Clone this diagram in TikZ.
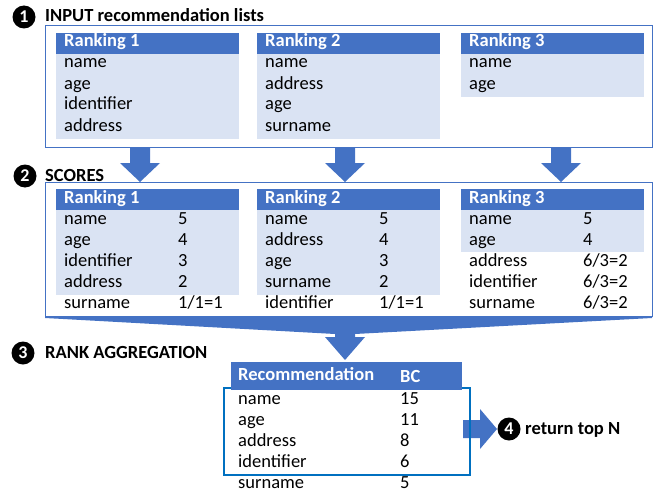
\documentclass[tikz,border=0pt]{standalone}
\usepackage{fontspec}
\setmainfont{Carlito}
\usetikzlibrary{positioning}
\definecolor{hdblue}{HTML}{4472C4}
\definecolor{bdblue}{HTML}{DAE3F3}
\definecolor{lnblue}{HTML}{0070C0}
\newcommand{\txtsize}{\fontsize{18.5}{21}\selectfont}
% block arrow pointing down, top middle at #1
\newcommand{\blockdown}[1]{\fill[blkarrow] (#1) ++(-10,0) -- ++(20,0) -- ++(0,16)
    -- ++(10,0) -- ++(-20,19) -- ++(-20,-19) -- ++(10,0) -- cycle;}
\tikzset{
    numcirc/.style = {circle, fill=black, text=white, inner sep=0pt,
        minimum size=23pt, font=\fontsize{18}{18}\selectfont\bfseries},
    sectitle/.style = {anchor=base west, inner sep=0pt, font=\txtsize\bfseries},
    cell/.style = {anchor=base west, inner sep=0pt, font=\txtsize},
    headcell/.style = {cell, text=white, font=\txtsize\bfseries},
    headbar/.style = {anchor=north west, fill=hdblue, inner sep=0pt,
        minimum width=183pt, minimum height=21pt},
    bodybar/.style = {anchor=north west, fill=bdblue, inner sep=0pt,
        minimum width=183pt},
    groupbox/.style = {anchor=north west, draw=hdblue, line width=1.2pt,
        inner sep=0pt, minimum width=607pt},
    blkarrow/.style = {fill=hdblue, draw=none},
}

\begin{document}
\begin{tikzpicture}[x=1pt, y=-1pt]
\useasboundingbox (0,0) rectangle (660,492);

% 1 - input lists
\node[numcirc] (n1) at (24,17) {1};
\node[sectitle] (t1) at (45,22) {INPUT recommendation lists};
\node[groupbox, minimum height=122pt] (input) at (45,25) {};
\foreach \tx/\tn/\bh/\items in {56/1/85/{name,age,identifier,address},
        257/2/85/{name,address,age,surname}, 461/3/43/{name,age}}{
    \node[headbar] (in\tn) at (\tx,33) {};
    \node[bodybar, minimum height=\bh pt] (inb\tn) at (\tx,54) {};
    \node[headcell] (inh\tn) at (\tx+8,47) {Ranking \tn};
    \foreach \w [count=\k] in \items
        \node[cell] (in\tn-\k) at (\tx+8,47+21*\k) {\w};
}
\coordinate (a1) at (140,147);
\coordinate (a2) at (345,147);
\coordinate (a3) at (561,147);
\blockdown{a1}
\blockdown{a2}
\blockdown{a3}

% 2 - scores
\node[numcirc] (n2) at (25,176) {2};
\node[sectitle] (t2) at (45,181) {SCORES};
\coordinate (tip) at (345,360);
\fill[blkarrow] (45,316) -- (652,316) -- (652,318) -- (355,334) -- (355,337)
    -- (365,337) -- (tip) -- (325,337) -- (335,337) -- (335,334) -- (45,318) -- cycle;
\node[groupbox, minimum height=134pt, fill=white] (scores) at (45,182) {};
\foreach \tx/\tn/\bh/\items in {56/1/85/{name/5,age/4,identifier/3,address/2,surname/{1/1=1}},
        257/2/85/{name/5,address/4,age/3,surname/2,identifier/{1/1=1}},
        461/3/42/{name/5,age/4,address/{6/3=2},identifier/{6/3=2},surname/{6/3=2}}}{
    \node[headbar] (sc\tn) at (\tx,189) {};
    \node[bodybar, minimum height=\bh pt] (scb\tn) at (\tx,210) {};
    \node[headcell] (sch\tn) at (\tx+8,203) {Ranking \tn};
    \foreach \w/\s [count=\k] in \items {
        \node[cell] (sc\tn-\k) at (\tx+8,203+21*\k) {\w};
        \node[cell] (sv\tn-\k) at (\tx+122,203+21*\k) {\s};
    }
}

% 3 - rank aggregation
\node[numcirc] (n3) at (23,353) {3};
\node[sectitle] (t3) at (45,358) {RANK AGGREGATION};
\fill[blkarrow] (463,420) -- (480,420) -- (480,409) -- (497,429) -- (480,449)
    -- (480,438) -- (463,438) -- cycle;
\node[anchor=north west, draw=lnblue, line width=2pt, inner sep=0pt,
    minimum width=246pt, minimum height=87pt] (topn) at (223,387) {};
\node[headbar, minimum width=231pt, minimum height=28pt] (agg) at (231,362) {};
\node[headcell] (aggh) at (238,380) {Recommendation};
\node[headcell] (bch) at (400,382) {BC};
\foreach \w/\s [count=\k] in {name/15,age/11,address/8,identifier/6,surname/5}{
    \node[cell] (ag-\k) at (238,383+21*\k) {\w};
    \node[cell] (bc-\k) at (400,383+21*\k) {\s};
}

% 4 - return top N
\node[numcirc] (n4) at (509,429) {4};
\node[sectitle] (t4) at (525,434) {return top N};
\end{tikzpicture}
\end{document}
